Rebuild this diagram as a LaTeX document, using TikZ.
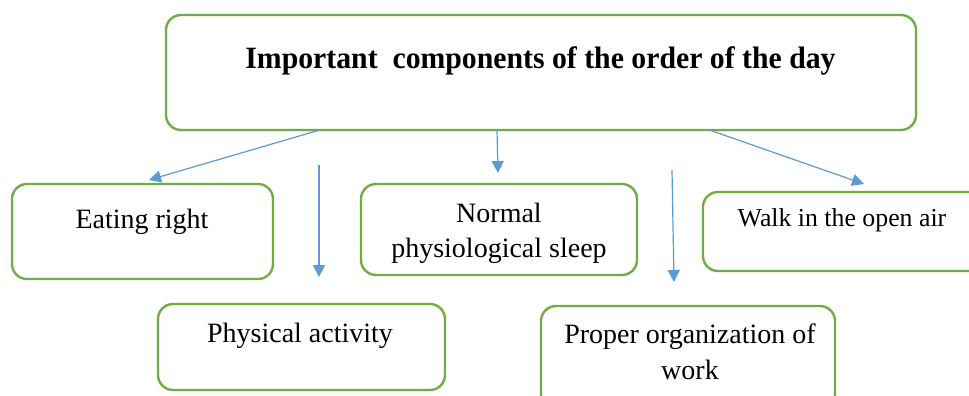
\documentclass[tikz,border=0pt]{standalone}
\usepackage{fontspec}
\setmainfont{Liberation Serif}
\usetikzlibrary{arrows.meta}
\definecolor{boxgreen}{HTML}{70AD47}
\definecolor{arrowblue}{HTML}{5B9BD5}
\tikzset{
  box/.style={draw=boxgreen, line width=2.4pt, rounded corners=15pt},
  lbl/.style={anchor=base, inner sep=0pt, font=\fontsize{28}{35}\selectfont, align=center},
  conn/.style={draw=arrowblue, line width=1.2pt, -{Triangle[length=12pt,width=12pt]}}
}
\begin{document}
\begin{tikzpicture}[x=1pt,y=-1pt]
\clip (0,0) rectangle (969,396);
\fill[white] (0,0) rectangle (969,396);
% boxes
\draw[box] (166,15) rectangle (916,130);
\node[inner sep=0pt, minimum width=750pt, minimum height=115pt] (top) at (541,72.5) {};
\draw[box] (12,184) rectangle (273,279);
\node[inner sep=0pt, minimum width=261pt, minimum height=95pt] (eat) at (142.5,231.5) {};
\draw[box] (361,184) rectangle (637,275);
\node[inner sep=0pt, minimum width=276pt, minimum height=91pt] (sleep) at (499,229.5) {};
\draw[box] (703,192) rectangle (990,271);
\node[inner sep=0pt, minimum width=287pt, minimum height=79pt] (walk) at (846.5,231.5) {};
\draw[box] (158,304) rectangle (445,390);
\node[inner sep=0pt, minimum width=287pt, minimum height=86pt] (phys) at (301.5,347) {};
\draw[box] (541,306) rectangle (835,410);
\node[inner sep=0pt, minimum width=294pt, minimum height=104pt] (work) at (688,358) {};
% texts
\node[lbl, font=\fontsize{31}{37}\bfseries] (ttl) at (540.5,69) {\scalebox{0.96}[1]{Important\ \ components of the order of the day}};
\node[lbl] (teat) at (142,228) {Eating right};
\node[lbl] (tsleep1) at (499,222) {Normal};
\node[lbl] (tsleep2) at (499,257) {physiological sleep};
\node[lbl, font=\fontsize{25.8}{32}\selectfont] (twalk) at (842,226) {Walk in the open air};
\node[lbl] (tphys) at (300,342) {Physical activity};
\node[lbl] (twork1) at (690,343) {Proper organization of};
\node[lbl] (twork2) at (690,379) {work};
% connector coordinates
\coordinate (a1s) at (top.south -| 319,0);
\coordinate (a1e) at (149,180);
\coordinate (a2s) at (319,165);
\coordinate (a2e) at (319,277);
\coordinate (a3s) at (top.south -| 497,0);
\coordinate (a3e) at (498,173);
\coordinate (a4s) at (672,170);
\coordinate (a4e) at (674,282);
\coordinate (a5s) at (top.south -| 710,0);
\coordinate (a5e) at (864,184);
\draw[conn] (a1s) -- (a1e);
\draw[conn] (a2s) -- (a2e);
\draw[conn] (a3s) -- (a3e);
\draw[conn] (a4s) -- (a4e);
\draw[conn] (a5s) -- (a5e);
\end{tikzpicture}
\end{document}
